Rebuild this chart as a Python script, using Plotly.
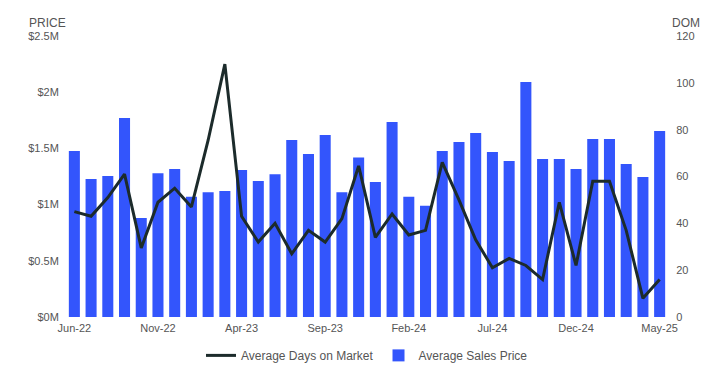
import plotly.graph_objects as go

months = ["Jun-22","Jul-22","Aug-22","Sep-22","Oct-22","Nov-22","Dec-22","Jan-23","Feb-23","Mar-23",
          "Apr-23","May-23","Jun-23","Jul-23","Aug-23","Sep-23","Oct-23","Nov-23","Dec-23","Jan-24",
          "Feb-24","Mar-24","Apr-24","May-24","Jun-24","Jul-24","Aug-24","Sep-24","Oct-24","Nov-24",
          "Dec-24","Jan-25","Feb-25","Mar-25","Apr-25","May-25"]

avg_price = [1.477, 1.228, 1.254, 1.77, 0.88, 1.28, 1.317, 1.07, 1.11, 1.12,
             1.308, 1.21, 1.27, 1.575, 1.45, 1.62, 1.11, 1.42, 1.20, 1.735,
             1.07, 0.99, 1.477, 1.557, 1.637, 1.468, 1.388, 2.09, 1.406, 1.406,
             1.317, 1.584, 1.584, 1.361, 1.246, 1.655]
avg_price = [v * 1e6 for v in avg_price]

avg_dom = [45, 43, 51, 61, 29.5, 49, 55, 47, 75.5, 108,
           43, 32, 40, 27, 37, 32, 42, 64.5, 34, 44,
           35, 37, 66, 50, 33, 21, 25, 22, 16, 49,
           22, 58, 58, 37, 8, 16]

tick_months = ["Jun-22", "Nov-22", "Apr-23", "Sep-23", "Feb-24", "Jul-24", "Dec-24", "May-25"]
price_ticks = [0, 0.5e6, 1e6, 1.5e6, 2e6, 2.5e6]
price_labels = ["$0M", "$0.5M", "$1M", "$1.5M", "$2M", "$2.5M"]
dom_ticks = [0, 20, 40, 60, 80, 100, 120]

FONT = "Arial, Liberation Sans, sans-serif"
GREY = "#555555"
CLEAR = "rgba(0,0,0,0)"

fig = go.Figure()
fig.add_trace(go.Scatter(
    x=months, y=avg_dom, name="Average Days on Market", mode="lines",
    line=dict(color="#1c2b2b", width=3), yaxis="y2"))
fig.add_trace(go.Bar(
    x=months, y=avg_price, name="Average Sales Price",
    marker=dict(color="#3355fc", line=dict(width=0))))

fig.update_layout(
    width=717, height=384,
    margin=dict(l=58, r=57, t=28, b=75),
    paper_bgcolor="white", plot_bgcolor="white",
    font=dict(family=FONT, size=11, color=GREY),
    bargap=0.34,
    showlegend=True,
    legend=dict(orientation="h", x=0.5, xanchor="center", y=-0.085, yanchor="top",
                font=dict(size=12, color=GREY), traceorder="normal"),
    xaxis=dict(type="category", tickmode="array", tickvals=tick_months, ticktext=tick_months,
               showgrid=False, showline=False, zeroline=False,
               ticks="outside", ticklen=1, tickcolor=CLEAR, automargin=False,
               tickfont=dict(size=11, color=GREY)),
    yaxis=dict(range=[0, 2.5e6], tickvals=price_ticks, ticktext=price_labels,
               showgrid=False, zeroline=False, showline=False,
               ticks="outside", ticklen=4, tickcolor=CLEAR, automargin=False,
               tickfont=dict(size=11, color=GREY)),
    yaxis2=dict(range=[0, 120], tickvals=dom_ticks, overlaying="y", side="right",
                showgrid=False, zeroline=False, showline=False,
                ticks="outside", ticklen=5, tickcolor=CLEAR, automargin=False,
                tickfont=dict(size=11, color=GREY)),
    annotations=[
        dict(text="PRICE", xref="paper", yref="paper", x=-0.065, y=1.015, xanchor="left",
             yanchor="bottom", showarrow=False, font=dict(size=12, color=GREY)),
        dict(text="DOM", xref="paper", yref="paper", x=1.003, y=1.015, xanchor="left",
             yanchor="bottom", showarrow=False, font=dict(size=12, color=GREY)),
    ],
)

fig.write_html("out.html")
